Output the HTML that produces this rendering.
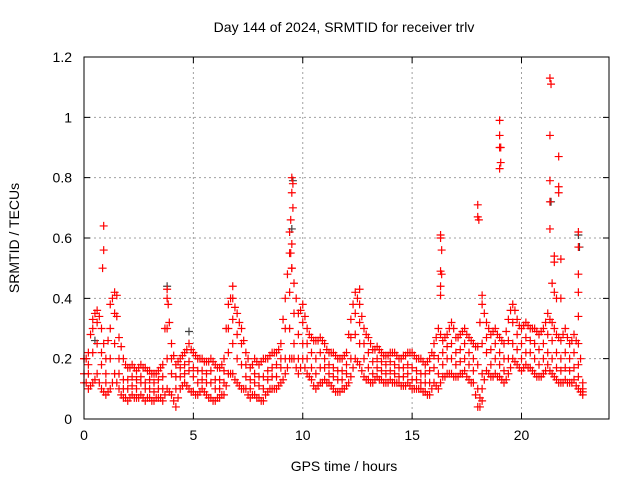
<!DOCTYPE html>
<html><head><meta charset="utf-8"><style>
body{margin:0;background:#fff}
svg{display:block;font-family:"Liberation Sans",sans-serif}
</style></head><body>
<svg id="chart" width="640" height="480">
<text x="344" y="32" font-size="14" text-anchor="middle">Day 144 of 2024, SRMTID for receiver trlv</text>
<text x="344" y="471" font-size="14" text-anchor="middle">GPS time / hours</text>
<text transform="translate(19,238) rotate(-90)" font-size="14" text-anchor="middle">SRMTID / TECUs</text>
<g id="grid"></g><g id="gray"></g><g id="marks"></g>
<rect x="84" y="57" width="525" height="362" fill="none" stroke="#000" stroke-width="1"/>
</svg>
<script>
const xTicks=[0,5,10,15,20];
const yTicks=[0,0.2,0.4,0.6,0.8,1,1.2];
const yTickLabels=["0","0.2","0.4","0.6","0.8","1","1.2"];
const tStart=0, tStep=0.2, tStartOffset=0.1;
const seriesLow=[.15,.1,.12,.15,.1,.08,.1,.15,.1,.07,.06,.08,.07,.08,.06,.07,.06,.07,.06,.1,.08,.04,.1,.12,.1,.09,.08,.1,.08,.07,.06,.07,.08,.15,.15,.12,.1,.1,.07,.08,.07,.06,.09,.1,.1,.12,.15,.2,.2,.15,.2,.15,.13,.1,.12,.13,.12,.1,.09,.1,.11,.14,.2,.18,.14,.13,.12,.14,.13,.12,.13,.12,.12,.11,.12,.1,.1,.1,.09,.08,.12,.1,.14,.15,.15,.14,.15,.16,.13,.12,.04,.1,.16,.14,.15,.14,.12,.15,.2,.18,.16,.18,.17,.15,.14,.15,.18,.15,.13,.12,.13,.12,.13,.1,.08];
const seriesMidLow=[.2,.15,.22,.25,.18,.12,.2,.25,.15,.1,.1,.11,.1,.12,.1,.1,.09,.1,.1,.2,.15,.1,.14,.15,.16,.14,.12,.13,.12,.12,.1,.1,.12,.22,.25,.2,.18,.14,.1,.12,.11,.1,.13,.14,.14,.17,.2,.3,.25,.2,.25,.2,.17,.15,.17,.17,.15,.14,.13,.13,.15,.2,.28,.25,.2,.17,.15,.17,.16,.15,.16,.15,.14,.14,.15,.13,.13,.12,.12,.12,.17,.15,.18,.2,.2,.18,.19,.2,.18,.16,.1,.15,.22,.18,.2,.18,.16,.2,.25,.23,.2,.22,.22,.2,.18,.2,.22,.2,.17,.16,.17,.16,.17,.14,.09];
const seriesMidHigh=[.12,.18,.3,.32,.22,.15,.3,.35,.2,.13,.13,.14,.13,.14,.12,.13,.12,.13,.14,.3,.2,.14,.17,.18,.19,.17,.16,.16,.15,.16,.13,.13,.16,.3,.33,.28,.25,.18,.13,.15,.14,.14,.16,.17,.18,.2,.3,.42,.35,.28,.32,.25,.22,.2,.22,.2,.18,.17,.16,.16,.18,.27,.35,.32,.25,.22,.19,.2,.19,.18,.19,.18,.17,.17,.18,.17,.16,.15,.15,.16,.21,.2,.22,.24,.25,.22,.23,.25,.22,.2,.18,.25,.27,.23,.25,.22,.2,.26,.32,.28,.25,.27,.26,.25,.23,.25,.28,.26,.22,.2,.22,.2,.22,.18,.1];
const seriesHigh=[.2,.22,.33,.36,.3,.2,.38,.42,.27,.2,.17,.18,.16,.18,.17,.16,.15,.16,.18,.4,.25,.18,.2,.22,.25,.22,.2,.2,.19,.2,.18,.17,.2,.38,.4,.35,.3,.22,.17,.2,.18,.2,.2,.22,.22,.25,.4,.55,.45,.35,.38,.3,.27,.26,.27,.25,.22,.22,.2,.2,.22,.33,.42,.38,.3,.27,.23,.24,.22,.21,.22,.22,.2,.21,.22,.22,.2,.2,.18,.2,.25,.3,.26,.28,.32,.27,.28,.3,.27,.25,.24,.38,.32,.28,.3,.27,.25,.33,.38,.33,.3,.32,.3,.3,.28,.3,.35,.32,.28,.26,.3,.25,.28,.25,.12];
const seriesOffsetLow=[.12,.11,.13,.12,.09,.09,.12,.12,.08,.07,.07,.07,.07,.07,.07,.06,.07,.07,.08,.09,.06,.07,.11,.11,.09,.08,.09,.09,.07,.06,.07,.08,.11,.15,.13,.11,.1,.08,.08,.07,.06,.08,.1,.1,.11,.13,.17,.2,.17,.17,.17,.14,.11,.11,.12,.12,.11,.09,.09,.1,.12,.17,.19,.16,.13,.12,.13,.13,.12,.12,.12,.12,.11,.11,.11,.1,.1,.09,.08,.1,.11,.12,.14,.15,.14,.14,.15,.14,.12,.08,.07,.13,.15,.14,.14,.13,.13,.17,.19,.17,.17,.17,.16,.14,.14,.16,.16,.14,.12,.12,.12,.12,.11,.09];
const seriesOffsetHigh=[.2,.28,.35,.34,.25,.26,.4,.34,.24,.18,.17,.17,.17,.17,.16,.15,.15,.17,.3,.32,.21,.19,.21,.23,.23,.21,.2,.19,.19,.19,.17,.18,.3,.4,.37,.32,.26,.2,.18,.19,.19,.2,.21,.22,.23,.33,.48,.5,.4,.36,.34,.28,.26,.26,.26,.23,.22,.21,.2,.21,.28,.38,.4,.34,.28,.25,.23,.23,.21,.21,.22,.21,.2,.21,.22,.21,.2,.19,.19,.22,.27,.28,.27,.3,.3,.27,.29,.28,.26,.24,.32,.35,.3,.29,.28,.26,.29,.36,.36,.31,.31,.31,.3,.29,.29,.32,.33,.3,.27,.28,.27,.26,.26,.2];
const spikeTimes=[0.9,0.9,0.85,1.5,3.8,3.85,6.8,9.5,9.55,9.5,9.55,9.45,9.4,9.5,9.45,9.5,12.6,16.3,16.3,16.35,16.3,16.35,16.3,16.3,18.0,18.0,18.05,18.2,19.0,19.0,19.0,19.05,19.05,19.0,21.3,21.35,21.3,21.3,21.3,21.3,21.5,21.5,21.7,21.7,21.7,21.8,22.6,22.6,22.6,22.6,22.6,21.4,21.5,21.6,21.8,18.1,18.2];
const spikeValues=[.64,.56,.5,.41,.43,.38,.44,.8,.78,.75,.7,.66,.62,.58,.55,.5,.43,.61,.6,.56,.49,.48,.44,.41,.71,.67,.66,.41,.99,.94,.9,.9,.85,.83,1.13,1.11,.94,.79,.72,.63,.54,.52,.87,.77,.75,.53,.62,.57,.48,.42,.34,.45,.42,.4,.4,.04,.06];
const grayTimes=[0.5,3.8,9.55,9.5,21.35,22.6,4.8,22.65];
const grayValues=[.26,.44,.79,.63,.72,.61,.29,.57];

const X0=84,X1=609,Y0=419,Y1=57;
const xs=t=>X0+(t/24)*(X1-X0);
const ys=v=>Y0-(v/1.2)*(Y0-Y1);
const NS="http://www.w3.org/2000/svg";
const grid=document.getElementById('grid');
const marks=document.getElementById('marks');
const grayG=document.getElementById('gray');
function mk(tag,attrs,parent){const e=document.createElementNS(NS,tag);for(const k in attrs)e.setAttribute(k,attrs[k]);parent.appendChild(e);return e;}
xTicks.forEach(t=>{
  const x=xs(t);
  if(t>0){const g=mk('line',{x1:x,x2:x,y1:Y1,y2:Y0,stroke:'#a0a0a0','stroke-dasharray':'2,3'},grid);
  
  }
  const tk=mk('path',{d:`M${x},${Y0}v-6M${x},${Y1}v6`,stroke:'#000'},grid);
  
  
  const lb=mk('text',{x:x,y:Y0+21,'font-size':14,'text-anchor':'middle'},grid);lb.textContent=t;
  
  
});
yTicks.forEach((v,i)=>{
  const y=ys(v);
  if(v>0&&v<1.2){const g=mk('line',{x1:X0,x2:X1,y1:y,y2:y,stroke:'#a0a0a0','stroke-dasharray':'2,3'},grid);
  
  }
  const tk=mk('path',{d:`M${X0},${y}h6M${X1},${y}h-6`,stroke:'#000'},grid);
  
  
  const lb=mk('text',{x:X0-12,y:y+5,'font-size':14,'text-anchor':'end'},grid);lb.textContent=yTickLabels[i];
  
  
});
function cross(t,v,col,parent){
  const x=xs(t),y=ys(v);
  const p=mk('path',{d:`M${x-4},${y}h8M${x},${y-4}v8`,stroke:col,'stroke-width':1.2},parent);
  
  
}
grayTimes.forEach((t,i)=>cross(t,grayValues[i],'#404040',grayG));
[seriesLow,seriesMidLow,seriesMidHigh,seriesHigh].forEach(arr=>{
  arr.forEach((v,i)=>{
    const t=tStart+i*tStep;
    cross(t,v,'#ff0000',marks);
  });
});
[seriesOffsetLow,seriesOffsetHigh].forEach(arr=>{
  arr.forEach((v,i)=>{
    const t=tStartOffset+i*tStep;
    cross(t,v,'#ff0000',marks);
  });
});
spikeTimes.forEach((t,i)=>cross(t,spikeValues[i],'#ff0000',marks));
</script>
</body></html>
